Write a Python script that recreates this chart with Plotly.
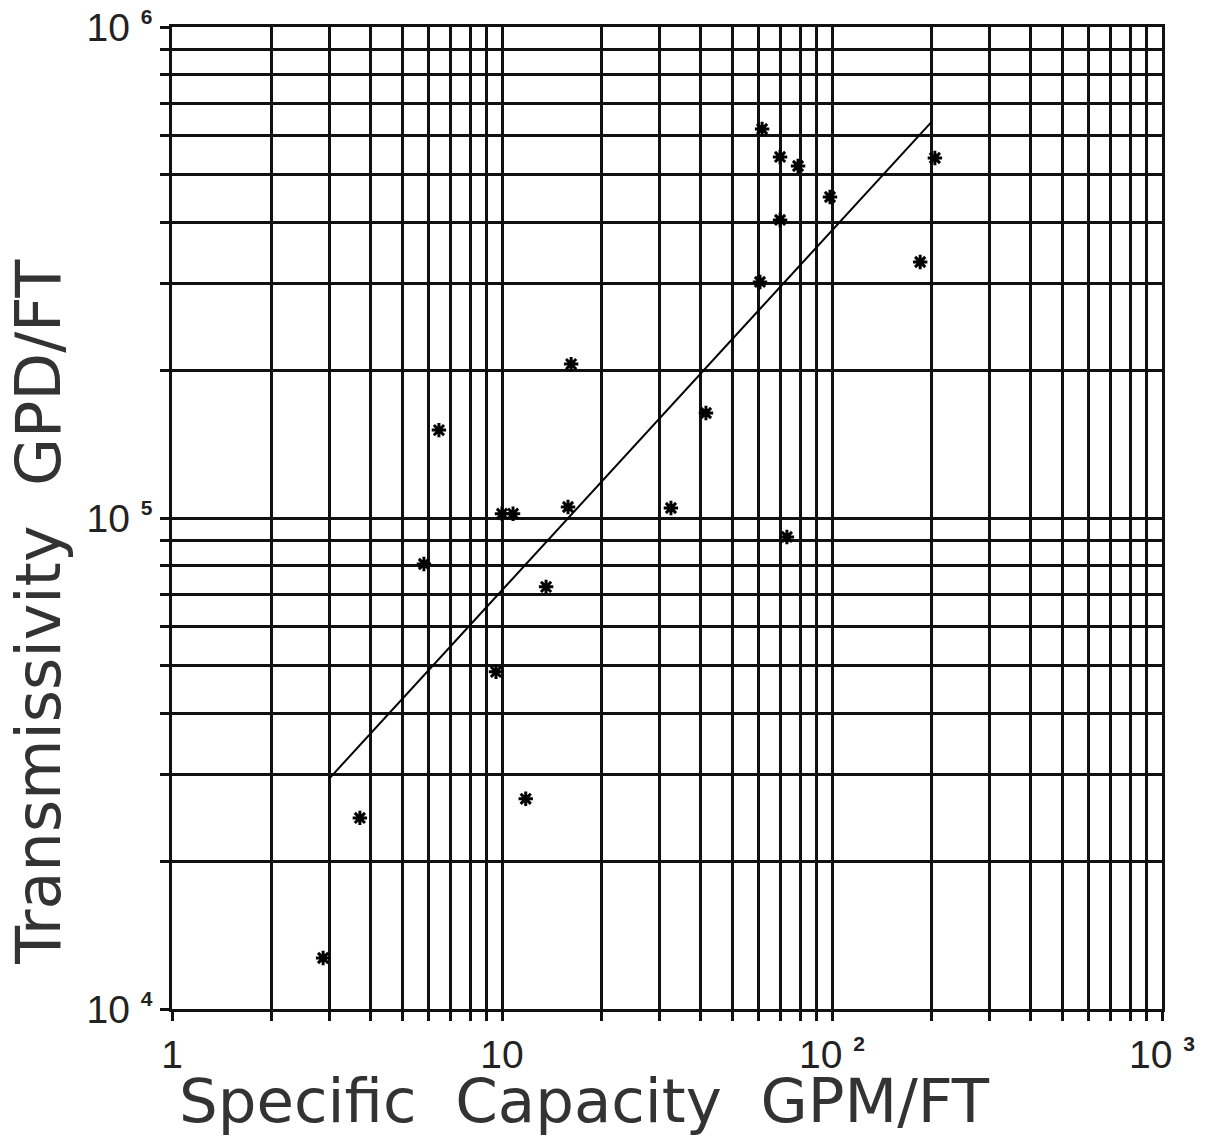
import plotly.graph_objects as go

# Data (Specific Capacity GPM/FT vs Transmissivity GPD/FT)
spec_capacity = [2.87, 3.71, 5.80, 6.44, 9.59, 10.0, 10.8, 13.6, 15.85, 16.2, 11.8,
                 32.5, 41.5, 73.0, 61.4, 69.6, 78.9, 98.6, 69.6, 60.5, 205, 185]
transmissivity = [12700, 24500, 80600, 151000, 48600, 102000, 102000, 72400, 105300, 205800, 26800,
                  104800, 163600, 91500, 620000, 543700, 521000, 450600, 404600, 302500, 541000, 332200]

fit_x = [3.0, 200]
fit_y = [29500, 640000]

SUP = "<sup><span style='font-size:21px'><b>{}</b></span></sup>"
x_major = [1, 10, 100, 1000]
x_major_text = ["1", "10", "10 " + SUP.format(2), "10 " + SUP.format(3)]
y_major = [1e4, 1e5, 1e6]
y_major_text = ["10 " + SUP.format(4), "10 " + SUP.format(5), "10 " + SUP.format(6)]
x_minor = [m * 10 ** k for k in range(0, 3) for m in range(2, 10)]
y_minor = [m * 10 ** k for k in range(4, 6) for m in range(2, 10)]

FONT = "Liberation Sans"
TITLE_FONT = "DejaVu Sans"

fig = go.Figure()
fig.add_trace(go.Scatter(x=fit_x, y=fit_y, mode="lines",
                         line=dict(color="black", width=2), showlegend=False))
fig.add_trace(go.Scatter(x=spec_capacity, y=transmissivity, mode="markers",
                         marker=dict(symbol="asterisk-open", size=12, color="black",
                                     line=dict(color="black", width=3)),
                         showlegend=False))

axis_common = dict(
    type="log", showgrid=True, gridcolor="#111", gridwidth=2.5, zeroline=False,
    showline=True, mirror=True, linecolor="#111", linewidth=2.5,
    ticks="outside", ticklen=9, tickwidth=2.5, tickcolor="#111",
    tickfont=dict(family=FONT, size=39, color="#222"), automargin=False,
    ticklabeloverflow="allow",
)

fig.update_xaxes(**axis_common, range=[0, 3], tickmode="array", tickvals=x_major,
                 ticktext=x_major_text,
                 minor=dict(tickmode="array", tickvals=x_minor, showgrid=True,
                            gridcolor="#111", gridwidth=2.5, ticks="outside",
                            ticklen=9, tickwidth=2.5, tickcolor="#111"))
fig.update_yaxes(**axis_common, range=[4, 6], tickmode="array", tickvals=y_major,
                 ticktext=y_major_text,
                 minor=dict(tickmode="array", tickvals=y_minor, showgrid=True,
                            gridcolor="#111", gridwidth=2.5, ticks="outside",
                            ticklen=9, tickwidth=2.5, tickcolor="#111"))

fig.add_annotation(text="Transmissivity  GPD/FT", textangle=-90, xref="paper", yref="paper",
                   x=-0.135, y=0.405, xanchor="center", yanchor="middle", showarrow=False,
                   font=dict(family=TITLE_FONT, size=62, color="#333"))
fig.add_annotation(text="Specific  Capacity  GPM/FT", xref="paper", yref="paper",
                   x=0.417, y=-0.093, xanchor="center", yanchor="middle", showarrow=False,
                   font=dict(family=TITLE_FONT, size=61, color="#333"))

fig.update_layout(width=1199, height=1127, paper_bgcolor="white", plot_bgcolor="white",
                  margin=dict(l=164, r=45, t=19, b=126))

fig.write_html("out.html")
